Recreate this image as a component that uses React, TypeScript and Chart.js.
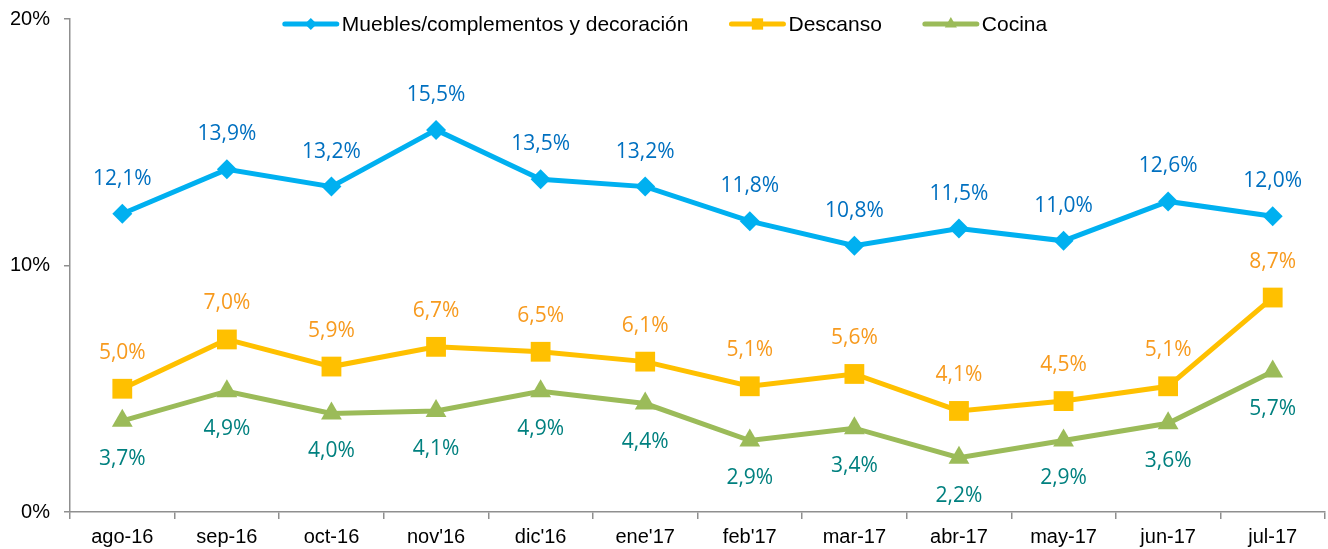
import React, { useEffect, useRef } from "react";
import { Chart, registerables } from "chart.js";

Chart.register(...registerables);

const categories = ["ago-16", "sep-16", "oct-16", "nov'16", "dic'16", "ene'17", "feb'17", "mar-17", "abr-17", "may-17", "jun-17", "jul-17"];
const muebles = [12.1, 13.9, 13.2, 15.5, 13.5, 13.2, 11.8, 10.8, 11.5, 11.0, 12.6, 12.0];
const descanso = [5.0, 7.0, 5.9, 6.7, 6.5, 6.1, 5.1, 5.6, 4.1, 4.5, 5.1, 8.7];
const cocina = [3.7, 4.9, 4.0, 4.1, 4.9, 4.4, 2.9, 3.4, 2.2, 2.9, 3.6, 5.7];
const yTicks = [0, 10, 20];

const W = 1328;
const H = 549;
const AXIS = "#8f8f8f";

function fmt(v: number) {
  return v.toFixed(1).replace(".", ",") + "%";
}

function drawMarker(ctx: CanvasRenderingContext2D, style: string, x: number, y: number, r: number, color: string) {
  ctx.save();
  ctx.fillStyle = color;
  ctx.beginPath();
  if (style === "rectRot") {
    ctx.moveTo(x - r, y);
    ctx.lineTo(x, y - r);
    ctx.lineTo(x + r, y);
    ctx.lineTo(x, y + r);
  } else if (style === "rect") {
    const s = r * Math.SQRT1_2;
    ctx.rect(x - s, y - s, 2 * s, 2 * s);
  } else {
    ctx.moveTo(x, y - r);
    ctx.lineTo(x + r * 0.866, y + r / 2);
    ctx.lineTo(x - r * 0.866, y + r / 2);
  }
  ctx.closePath();
  ctx.fill();
  ctx.restore();
}

const labelPlugin = {
  id: "valueLabels",
  afterDatasetsDraw(chart: any) {
    const ctx: CanvasRenderingContext2D = chart.ctx;
    ctx.save();
    ctx.font = '21px "Open Sans"';
    ctx.textAlign = "center";
    ctx.textBaseline = "middle";
    chart.data.datasets.forEach((ds: any, i: number) => {
      const meta = chart.getDatasetMeta(i);
      meta.data.forEach((pt: any, j: number) => {
        ctx.fillStyle = ds.labelColor;
        ctx.fillText(fmt(ds.data[j]), pt.x, pt.y + ds.labelOffset);
      });
    });
    ctx.restore();
  },
};

const legendPlugin = {
  id: "customLegend",
  afterDraw(chart: any) {
    const ctx: CanvasRenderingContext2D = chart.ctx;
    ctx.save();
    ctx.font = '21px "Liberation Sans", Arial, sans-serif';
    ctx.textBaseline = "middle";
    ctx.textAlign = "left";
    const lineLen = 56;
    const gapText = 3;
    const itemGap = 41;
    const items = chart.data.datasets.map((ds: any) => ({
      ds,
      w: lineLen + gapText + ctx.measureText(ds.label).width,
    }));
    const total = items.reduce((a: number, it: any) => a + it.w, 0) + itemGap * (items.length - 1);
    let x = chart.width / 2 - total / 2 + 1;
    const y = 24;
    items.forEach((it: any) => {
      const ds = it.ds;
      ctx.strokeStyle = ds.borderColor;
      ctx.lineWidth = 5;
      ctx.lineCap = "round";
      ctx.beginPath();
      ctx.moveTo(x + 2, y);
      ctx.lineTo(x + lineLen - 2, y);
      ctx.stroke();
      drawMarker(ctx, ds.pointStyle, x + lineLen / 2, y, ds.legendR, ds.borderColor);
      ctx.fillStyle = "#000";
      ctx.fillText(ds.label, x + lineLen + gapText, y + 1);
      x += it.w + itemGap;
    });
    ctx.restore();
  },
};

export default function App() {
  const ref = useRef<HTMLCanvasElement>(null);
  useEffect(() => {
    if (!ref.current) return;
    const chart = new Chart(ref.current, {
      type: "line",
      data: {
        labels: categories,
        datasets: [
          {
            label: "Muebles/complementos y decoración",
            data: muebles,
            borderColor: "#00B0F0",
            backgroundColor: "#00B0F0",
            borderWidth: 5,
            pointStyle: "rectRot",
            pointRadius: 10,
            pointBorderWidth: 0,
            pointBackgroundColor: "#00B0F0",
            tension: 0,
            labelColor: "#0070C0",
            labelOffset: -35,
            legendR: 6,
          } as any,
          {
            label: "Descanso",
            data: descanso,
            borderColor: "#FFC000",
            backgroundColor: "#FFC000",
            borderWidth: 5,
            pointStyle: "rect",
            pointRadius: 14,
            pointBorderWidth: 0,
            pointBackgroundColor: "#FFC000",
            tension: 0,
            labelColor: "#F79A1E",
            labelOffset: -36,
            legendR: 8,
          } as any,
          {
            label: "Cocina",
            data: cocina,
            borderColor: "#9BBB59",
            backgroundColor: "#9BBB59",
            borderWidth: 5,
            pointStyle: "triangle",
            pointRadius: 12,
            pointBorderWidth: 0,
            pointBackgroundColor: "#9BBB59",
            tension: 0,
            labelColor: "#00807F",
            labelOffset: 38,
            legendR: 7,
          } as any,
        ],
      },
      options: {
        animation: false,
        responsive: false,
        events: [],
        layout: { autoPadding: false, padding: { top: 19, right: 3, left: 2, bottom: 0 } },
        plugins: { legend: { display: false }, tooltip: { enabled: false } },
        scales: {
          x: {
            type: "category",
            offset: true,
            grid: {
              display: true,
              drawOnChartArea: false,
              drawTicks: true,
              tickLength: 7,
              offset: true,
              color: AXIS,
              lineWidth: 1.5,
            },
            border: { display: true, color: AXIS, width: 1.5 },
            ticks: {
              color: "#000",
              font: { family: '"Liberation Sans", Arial, sans-serif', size: 20 },
              padding: 6,
              maxRotation: 0,
              autoSkip: false,
            },
            afterFit(scale: any) {
              scale.height = 37;
              scale.paddingLeft = 0;
              scale.paddingRight = 0;
            },
          },
          y: {
            min: 0,
            max: 20,
            afterBuildTicks(scale: any) {
              scale.ticks = yTicks.map((v) => ({ value: v }));
            },
            grid: {
              display: true,
              drawOnChartArea: false,
              drawTicks: true,
              tickLength: 6,
              color: AXIS,
              lineWidth: 1.5,
            },
            border: { display: true, color: AXIS, width: 1.5 },
            ticks: {
              color: "#000",
              font: { family: '"Liberation Sans", Arial, sans-serif', size: 20 },
              padding: 14,
              callback: (v: any) => v + "%",
            },
            afterFit(scale: any) {
              scale.width = 68;
              scale.paddingTop = 0;
              scale.paddingBottom = 0;
              scale.paddingLeft = 0;
              scale.paddingRight = 0;
            },
          },
        },
      },
      plugins: [labelPlugin, legendPlugin],
    });
    return () => chart.destroy();
  }, []);
  return (
    <div style={{ position: "absolute", left: 0, top: 0, width: W, height: H, background: "#fff" }}>
      <canvas ref={ref} width={W} height={H} style={{ width: W, height: H, display: "block" }} />
    </div>
  );
}
